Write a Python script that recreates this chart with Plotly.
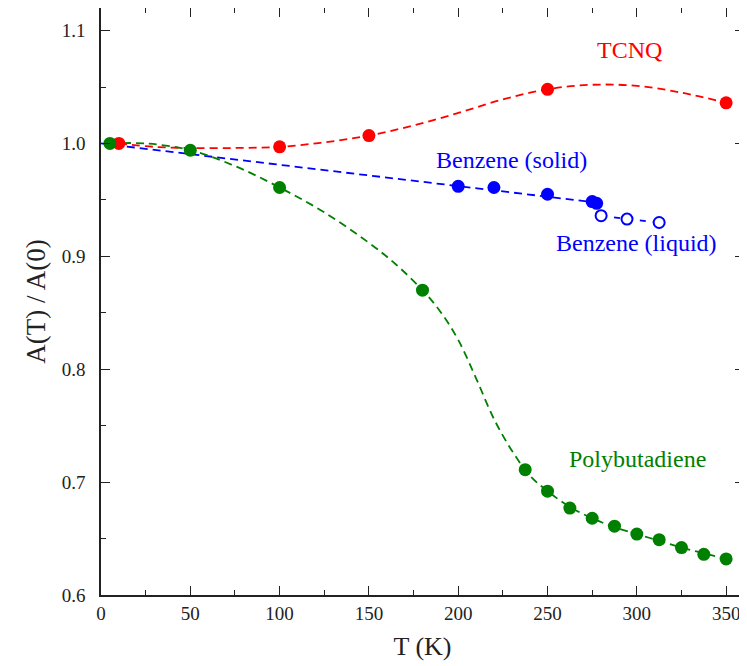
import plotly.graph_objects as go

# ---- data ----
tcnq_T = [10, 100, 150, 250, 350]
tcnq_v = [1.000, 0.997, 1.007, 1.048, 1.036]
tcnq_fit_T = [10, 30, 50, 75, 100, 125, 150, 175, 200, 225, 250, 275, 300, 325, 350]
tcnq_fit_v = [1.000, 0.997, 0.996, 0.996, 0.997, 1.001, 1.007, 1.016, 1.027, 1.039, 1.048, 1.052, 1.051, 1.045, 1.036]

benz_solid_T = [200, 220, 250, 275, 277.5]
benz_solid_v = [0.962, 0.961, 0.955, 0.9485, 0.947]
benz_fit_T = [0, 278]
benz_fit_v = [1.000, 0.9475]
benz_liquid_T = [280, 294.5, 312.5]
benz_liquid_v = [0.936, 0.933, 0.930]

pb_T = [5, 50, 100, 180, 237.5, 250, 262.5, 275, 287.5, 300, 312.5, 325, 337.5, 350]
pb_v = [1.000, 0.994, 0.961, 0.870, 0.711, 0.692, 0.677, 0.668, 0.661, 0.654, 0.649, 0.642, 0.636, 0.632]
pb_fit_T = [5, 25, 50, 75, 100, 125, 150, 165, 180, 190, 200, 210, 220, 230, 240, 250,
            262.5, 275, 287.5, 300, 312.5, 325, 337.5, 350]
pb_fit_v = [1.000, 1.000, 0.994, 0.980, 0.961, 0.939, 0.912, 0.893, 0.870, 0.851, 0.826, 0.792,
            0.756, 0.728, 0.706, 0.692, 0.678, 0.668, 0.660, 0.654, 0.648, 0.642, 0.637, 0.632]

x_ticks = [0, 50, 100, 150, 200, 250, 300, 350]
y_ticks = [0.6, 0.7, 0.8, 0.9, 1.0, 1.1]

labels = [
    ("TCNQ", 295.7, 1.083, "#ff0000"),
    ("Benzene (solid)", 229.7, 0.9856, "#0000ff"),
    ("Benzene (liquid)", 299.6, 0.912, "#0000ff"),
    ("Polybutadiene", 300.2, 0.7206, "#008000"),
]

RED, BLUE, GREEN = "#ff0000", "#0000ff", "#008000"
DASH = "8px,5px"
FONT = "'Liberation Serif', 'Times New Roman', Times, 'DejaVu Serif', serif"

fig = go.Figure()

# fitted / guide curves
fig.add_trace(go.Scatter(x=benz_fit_T, y=benz_fit_v, mode="lines",
                         line=dict(color=BLUE, width=1.8, dash=DASH), hoverinfo="skip"))
fig.add_trace(go.Scatter(x=benz_liquid_T, y=benz_liquid_v, mode="lines",
                         line=dict(color=BLUE, width=1.8, dash="6px,7px"), hoverinfo="skip"))
fig.add_trace(go.Scatter(x=tcnq_fit_T, y=tcnq_fit_v, mode="lines",
                         line=dict(color=RED, width=1.8, dash=DASH, shape="spline"), hoverinfo="skip"))
fig.add_trace(go.Scatter(x=pb_fit_T, y=pb_fit_v, mode="lines",
                         line=dict(color=GREEN, width=1.8, dash=DASH, shape="spline"), hoverinfo="skip"))

# markers
fig.add_trace(go.Scatter(x=benz_solid_T, y=benz_solid_v, mode="markers",
                         marker=dict(color=BLUE, size=13, line=dict(width=0))))
fig.add_trace(go.Scatter(x=benz_liquid_T, y=benz_liquid_v, mode="markers",
                         marker=dict(color="white", size=11, line=dict(color=BLUE, width=2))))
fig.add_trace(go.Scatter(x=tcnq_T, y=tcnq_v, mode="markers",
                         marker=dict(color=RED, size=13, line=dict(width=0))))
fig.add_trace(go.Scatter(x=pb_T, y=pb_v, mode="markers",
                         marker=dict(color=GREEN, size=13, line=dict(width=0))))

for text, x, y, c in labels:
    fig.add_annotation(x=x, y=y, text=text, showarrow=False,
                       font=dict(family=FONT, size=24, color=c), xanchor="center", yanchor="middle")

axis_common = dict(
    showgrid=False, zeroline=False, showline=True, linecolor="#222", linewidth=1.5,
    mirror="ticks", ticks="inside", ticklen=9, tickwidth=1.3, tickcolor="#222",
    tickfont=dict(family=FONT, size=19, color="#222"), automargin=False,
)

# the page body has an 8px default margin, so the plot area is shifted by 8px here
fig.update_layout(
    width=747, height=666,
    margin=dict(l=93, r=11, t=0, b=79),
    paper_bgcolor="white", plot_bgcolor="white",
    showlegend=False,
    font=dict(family=FONT),
    xaxis=dict(range=[0, 360], tickvals=x_ticks, ticktext=[str(v) for v in x_ticks],
               minor=dict(dtick=25, tick0=0, ticks="inside", ticklen=5, tickwidth=1.2, tickcolor="#222"),
               title=dict(text="T (K)", font=dict(family=FONT, size=26, color="#222"), standoff=14),
               ticklabelstandoff=0,
               **axis_common),
    yaxis=dict(range=[0.6, 1.12], tickvals=y_ticks, ticktext=[f"{v:.1f}" for v in y_ticks],
               minor=dict(dtick=0.05, tick0=0.6, ticks="inside", ticklen=5, tickwidth=1.2, tickcolor="#222"),
               title=dict(text="A(T) / A(0)", font=dict(family=FONT, size=27, color="#222"), standoff=8),
               ticklabelstandoff=10,
               **axis_common),
)

fig.write_html("out.html")
